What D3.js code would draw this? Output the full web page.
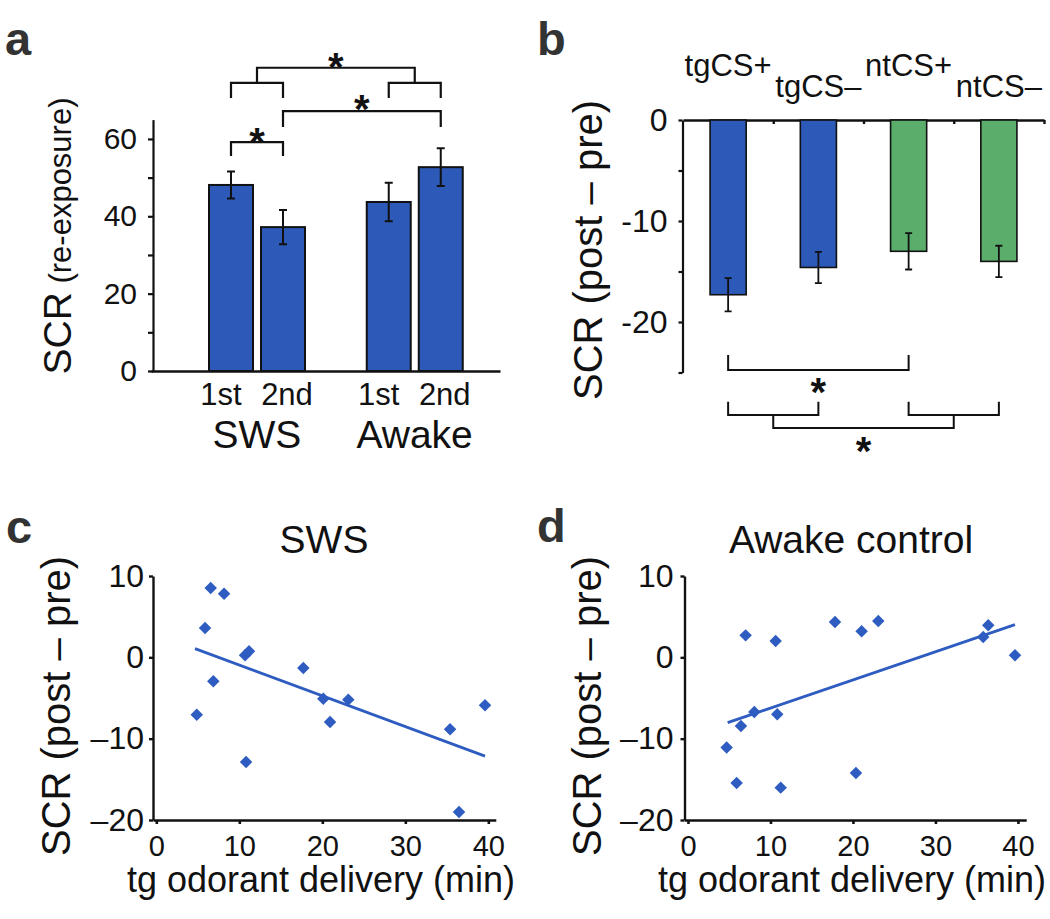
<!DOCTYPE html>
<html><head><meta charset="utf-8">
<script src="https://cdn.jsdelivr.net/npm/d3@7"></script>
<style>
body{margin:0;background:#fff}
svg{display:block}
text{font-family:"Liberation Sans",Arial,Helvetica,sans-serif;fill:#111}
</style>
</head><body>
<svg id="fig" width="1050" height="919"></svg>
<script>
// ---------- data ----------
const groupsA = ["SWS", "Awake"];
const sessionsA = ["1st", "2nd"];
const swsMean = [48.1, 37.2];
const swsSem = [3.5, 4.4];
const awakeMean = [43.7, 52.7];
const awakeSem = [5.0, 4.9];
const yTicksA = [0, 10, 20, 30, 40, 50, 60];

const categoriesB = ["tgCS+", "tgCS–", "ntCS+", "ntCS–"];
const meanB = [-17.3, -14.6, -13.0, -14.0];
const semB = [1.65, 1.55, 1.8, 1.55];
const yTicksB = [0, -5, -10, -15, -20, -25];

const swsX = [6.55, 8.16, 5.87, 10.69, 11.17, 17.71, 6.87, 4.87, 20.12, 23.13, 20.93, 35.39, 10.81, 39.60, 36.47];
const swsY = [8.52, 7.83, 3.60, 0.25, 0.74, -1.32, -2.95, -7.05, -5.08, -5.20, -7.96, -8.85, -12.87, -5.90, -19.02];
const fitSwsX = [4.66, 39.60];
const fitSwsY = [1.07, -12.14];

const awakeX = [6.99, 10.63, 17.82, 21.05, 23.07, 36.40, 35.79, 39.64, 8.04, 10.82, 6.42, 4.69, 5.90, 11.24, 20.36];
const awakeY = [2.70, 2.00, 4.34, 3.20, 4.46, 3.93, 2.50, 0.25, -6.73, -7.01, -8.45, -11.10, -15.46, -16.02, -14.23];
const fitAwakeX = [4.81, 39.64];
const fitAwakeY = [-8.03, 4.02];

const xTicksCD = [0, 10, 20, 30, 40];
const yTicksCD = [10, 0, -10, -20];

// ---------- styles ----------
const BLUE = "#2D5AB8", GREEN = "#5BAD6C", DOT = "#2E5CC0", INK = "#111";
const svg = d3.select("#fig");
svg.append("rect").attr("width", 1050).attr("height", 919).attr("fill", "#fff");

function styleAxis(g, sw) {
  g.selectAll("path.domain").attr("stroke", INK).attr("stroke-width", sw);
  g.selectAll(".tick line").attr("stroke", INK).attr("stroke-width", sw);
  g.selectAll("text").attr("fill", INK).attr("font-family", null);
}
function star(g, x, yc, size) {
  g.append("text").attr("x", x).attr("y", yc + size * 0.58).attr("text-anchor", "middle")
    .attr("font-size", size).attr("font-weight", "bold").text("*");
}
function panelLabel(t, x, y) {
  svg.append("text").attr("x", x).attr("y", y).attr("font-size", 47).attr("font-weight", "bold")
    .style("fill", "#333").text(t);
}
const fmtMinus = d => d < 0 ? "–" + Math.abs(d) : String(d);

// ---------- panel a ----------
{
  const g = svg.append("g");
  const y = d3.scaleLinear().domain([0, 65]).range([371, 119.6]);
  const x0 = d3.scaleBand().domain(groupsA).range([178, 493.5]).padding(0);
  const x1 = d3.scaleBand().domain(sessionsA).range([31, 127]).paddingInner(0.154).paddingOuter(0);
  const means = {SWS: swsMean, Awake: awakeMean};
  const sems = {SWS: swsSem, Awake: awakeSem};
  const rows = [];
  groupsA.forEach(gr => sessionsA.forEach((s, i) => rows.push({g: gr, s, v: means[gr][i], e: sems[gr][i]})));
  const cx = r => x0(r.g) + x1(r.s) + x1.bandwidth() / 2;

  const ya = g.append("g").attr("transform", "translate(153,0)")
    .call(d3.axisLeft(y).tickValues(yTicksA).tickSize(5).tickSizeOuter(0).tickPadding(11)
      .tickFormat(d => d % 20 === 0 ? d : ""));
  styleAxis(ya, 2.2);
  ya.selectAll("text").attr("font-size", 30);
  const xl = d3.scaleLinear().domain([0, 1]).range([151, 500]);
  const xa = g.append("g").attr("transform", "translate(0,371)")
    .call(d3.axisBottom(xl).tickValues([]).tickSizeOuter(0));
  styleAxis(xa, 2.6);

  g.selectAll("rect.bar").data(rows).join("rect").attr("class", "bar")
    .attr("x", r => x0(r.g) + x1(r.s)).attr("width", x1.bandwidth())
    .attr("y", r => y(r.v)).attr("height", r => y(0) - y(r.v))
    .attr("fill", BLUE).attr("stroke", INK).attr("stroke-width", 2);
  rows.forEach(r => {
    const c = cx(r);
    g.append("path").attr("d", `M${c - 4},${y(r.v + r.e)}H${c + 4}M${c},${y(r.v + r.e)}V${y(r.v - r.e)}M${c - 4},${y(r.v - r.e)}H${c + 4}`)
      .attr("stroke", INK).attr("stroke-width", 2).attr("fill", "none");
    g.append("text").attr("x", c + (r.s === "1st" ? -10 : 4)).attr("y", 405).attr("text-anchor", "middle")
      .attr("font-size", 31).text(r.s);
  });
  groupsA.forEach(gr => g.append("text").attr("x", x0(gr) + x0.bandwidth() / 2).attr("y", 448)
    .attr("text-anchor", "middle").attr("font-size", 39).text(gr));

  const c1 = cx(rows[0]), c2 = cx(rows[1]), c3 = cx(rows[2]), c4 = cx(rows[3]);
  const br = g.append("g").attr("fill", "none").attr("stroke", INK).attr("stroke-width", 2.2);
  br.append("path").attr("d", `M${c1},${y(55.6)}V${y(59.2)}H${c2}V${y(55.6)}`);
  br.append("path").attr("d", `M${c2},${y(63.1)}V${y(67.2)}H${c4}V${y(63.1)}`);
  br.append("path").attr("d",
    `M${c1},${y(70.6)}V${y(74.5)}H${c2}V${y(70.6)}M${c3},${y(70.6)}V${y(74.5)}H${c4}V${y(70.6)}` +
    `M${(c1 + c2) / 2},${y(74.5)}V${y(78.4)}H${(c3 + c4) / 2}V${y(74.5)}`);
  star(g, (c1 + c2) / 2, y(61.7), 40);
  star(g, (c2 + c4) / 2, y(70.0), 40);
  star(g, ((c1 + c2) / 2 + (c3 + c4) / 2) / 2, y(81.1), 40);

  const t = g.append("text").attr("transform", "translate(71,236) rotate(-90)").attr("text-anchor", "middle");
  t.append("tspan").attr("font-size", 39).text("SCR");
  t.append("tspan").attr("font-size", 31).text(" (re-exposure)");
  panelLabel("a", 5, 55);
}

// ---------- panel b ----------
{
  const g = svg.append("g");
  const y = d3.scaleLinear().domain([0, -25]).range([120, 372.5]);
  const x = d3.scaleBand().domain(categoriesB).range([683, 1044]).padding(0);
  const step = x.step(), bw = step * 0.4;
  const ya = g.append("g").attr("transform", "translate(682.5,0)")
    .call(d3.axisLeft(y).tickValues(yTicksB).tickSize(4).tickSizeOuter(0).tickPadding(11)
      .tickFormat(d => d % 10 === 0 ? String(d) : ""));
  styleAxis(ya, 2.2);
  ya.selectAll("text").attr("font-size", 32);
  const xi = d3.scaleLinear().domain([0, categoriesB.length]).range([683, 1044]);
  const xa = g.append("g").attr("transform", "translate(0,120)")
    .call(d3.axisBottom(xi).tickValues([1, 2, 3, 4]).tickSize(4).tickSizeOuter(0).tickFormat(""));
  styleAxis(xa, 2.4);

  const rows = categoriesB.map((c, i) => ({c, v: meanB[i], e: semB[i], i}));
  g.selectAll("rect.bar").data(rows).join("rect").attr("class", "bar")
    .attr("x", r => x(r.c) + (step - bw) / 2).attr("width", bw)
    .attr("y", y(0)).attr("height", r => y(r.v) - y(0))
    .attr("fill", r => r.i < 2 ? BLUE : GREEN).attr("stroke", "#111").attr("stroke-width", 1.6);
  const cx = r => x(r.c) + step / 2;
  rows.forEach(r => {
    const c = cx(r);
    g.append("path").attr("d", `M${c - 3.5},${y(r.v + r.e)}H${c + 3.5}M${c},${y(r.v + r.e)}V${y(r.v - r.e)}M${c - 3.5},${y(r.v - r.e)}H${c + 3.5}`)
      .attr("stroke", INK).attr("stroke-width", 1.8).attr("fill", "none");
    g.append("text").attr("x", c).attr("y", r.i % 2 === 0 ? 76 : 97).attr("text-anchor", "middle")
      .attr("font-size", 31).text(r.c);
  });
  const c1 = cx(rows[0]), c2 = cx(rows[1]), c3 = cx(rows[2]), c4 = cx(rows[3]);
  const br = g.append("g").attr("fill", "none").attr("stroke", INK).attr("stroke-width", 2);
  br.append("path").attr("d", `M${c1},${y(-23.27)}V${y(-24.75)}H${c3}V${y(-23.27)}`);
  br.append("path").attr("d",
    `M${c1},${y(-27.9)}V${y(-29.2)}H${c2}V${y(-27.9)}M${c3},${y(-27.9)}V${y(-29.2)}H${c4}V${y(-27.9)}` +
    `M${(c1 + c2) / 2},${y(-29.2)}V${y(-30.5)}H${(c3 + c4) / 2}V${y(-29.2)}`);
  star(g, (c1 + c3) / 2, y(-26.04), 40);
  star(g, ((c1 + c2) / 2 + (c3 + c4) / 2) / 2, y(-31.9), 40);

  g.append("text").attr("transform", "translate(602,250) rotate(-90)").attr("text-anchor", "middle")
    .attr("font-size", 40).text("SCR (post – pre)");
  panelLabel("b", 537, 55);
}

// ---------- panels c & d ----------
function scatter(opts) {
  const g = svg.append("g");
  const x = d3.scaleLinear().domain(opts.xDom).range(opts.xRange);
  const y = d3.scaleLinear().domain([-20, 10]).range([820, 576]);
  const ya = g.append("g").attr("transform", `translate(${opts.xRange[0]},0)`)
    .call(d3.axisLeft(y).tickValues(yTicksCD).tickSize(4).tickSizeOuter(0).tickPadding(opts.yPad).tickFormat(fmtMinus));
  styleAxis(ya, 2.4);
  ya.selectAll("text").attr("font-size", 32);
  const xa = g.append("g").attr("transform", "translate(0,820)")
    .call(d3.axisBottom(x).tickValues(xTicksCD).tickSize(4).tickSizeOuter(0).tickPadding(11));
  styleAxis(xa, 2.6);
  xa.selectAll("text").attr("font-size", 29);

  g.append("line").attr("x1", x(opts.fitX[0])).attr("y1", y(opts.fitY[0]))
    .attr("x2", x(opts.fitX[1])).attr("y2", y(opts.fitY[1]))
    .attr("stroke", DOT).attr("stroke-width", 2.8);
  const sym = d3.symbol().type(d3.symbolSquare).size(78);
  g.selectAll("path.pt").data(opts.xs.map((v, i) => [v, opts.ys[i]])).join("path").attr("class", "pt")
    .attr("d", sym).attr("fill", DOT)
    .attr("transform", d => `translate(${x(d[0])},${y(d[1])}) rotate(45)`);

  g.append("text").attr("x", opts.titleX).attr("y", 553).attr("text-anchor", "middle")
    .attr("font-size", 39).text(opts.title);
  g.append("text").attr("x", opts.xlabX).attr("y", 892).attr("text-anchor", "middle")
    .attr("font-size", 36).text("tg odorant delivery (min)");
  g.append("text").attr("transform", `translate(${opts.ylabX},706) rotate(-90)`).attr("text-anchor", "middle")
    .attr("font-size", 40).text("SCR (post – pre)");
}
scatter({xDom: [-0.4, 40.9], xRange: [153, 495.8], yPad: 5, xs: swsX, ys: swsY, fitX: fitSwsX, fitY: fitSwsY,
  title: "SWS", titleX: 324, xlabX: 321, ylabX: 70});
scatter({xDom: [-0.42, 41.0], xRange: [684.5, 1026.2], yPad: 7, xs: awakeX, ys: awakeY, fitX: fitAwakeX, fitY: fitAwakeY,
  title: "Awake control", titleX: 851, xlabX: 852, ylabX: 601});
panelLabel("c", 6, 543);
panelLabel("d", 537, 542);
</script>
</body></html>
